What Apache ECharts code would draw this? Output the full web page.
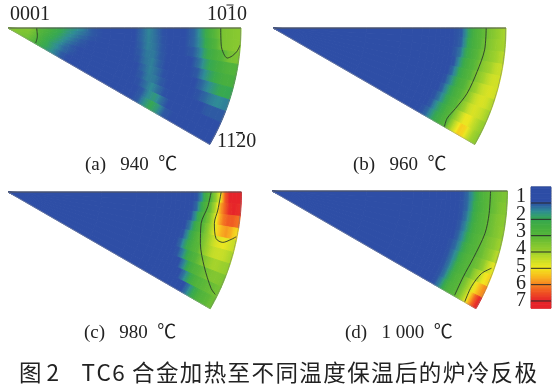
<!DOCTYPE html>
<html><head><meta charset="utf-8">
<style>html,body{margin:0;padding:0;background:#fff}#c{width:558px;height:388px;filter:blur(0.6px)}</style>
<script src="https://cdn.jsdelivr.net/npm/echarts@6/dist/echarts.min.js"></script>
</head><body><div id="c"></div>
<script>
const thetaEdges = [0,3,6,9,12,15,18,21,24,27,30];
const rEdgesA = [0,6,12,15,18,21,24,27,30,34,38,44,50,53,56,59,62,65,68,71,74,78,82,85,88,91,94,97,100];
const rEdgesOther = [0,40,55,60,64,67,70,72,74,76,78,80,82,84,86,88,90,92,94,96,98,100];

const valuesA = [
[3.6,3.6,3.1,2.8,2.4,2.1,1.8,1.6,1.4,1.1,1,1,1,1,1.2,1.45,1.25,1.03,1,1,1,1.2,1.8,2.6,3.1,3.5,3.6,3.7],
[3.6,3.6,3.0,2.7,2.3,2.0,1.7,1.5,1.3,1.1,1,1,1,1,1.2,1.43,1.27,1.05,1,1,1,1.2,1.7,2.4,2.9,3.5,3.6,3.7],
[3.6,3.6,3.0,2.6,2.2,1.9,1.6,1.4,1.2,1.05,1,1,1,1,1.15,1.42,1.3,1.07,1,1,1,1.1,1.5,2.2,2.6,2.9,3.4,3.5],
[3.6,3.5,2.9,2.5,2.1,1.8,1.5,1.3,1.1,1,1,1,1,1,1.1,1.35,1.35,1.1,1,1,1,1,1.3,1.8,2.2,2.5,2.8,2.9],
[3.6,3.5,2.9,2.4,2.0,1.7,1.4,1.2,1.05,1,1,1,1,1,1.05,1.3,1.4,1.15,1,1,1,1,1.1,1.5,1.9,2.3,2.6,2.6],
[3.6,3.5,2.8,2.3,1.9,1.6,1.3,1.1,1,1,1,1,1,1,1,1.2,1.42,1.25,1.03,1,1,1,1,1.2,1.5,1.8,2.1,2.0],
[3.6,3.4,2.8,2.3,1.8,1.5,1.2,1.1,1,1,1,1,1,1,1,1.1,1.38,1.35,1.1,1,1,1,1,1.05,1.2,1.4,1.5,1.4],
[3.6,3.4,2.7,2.2,1.8,1.5,1.2,1.05,1,1,1,1,1,1,1,1.03,1.25,1.5,1.25,1.03,1,1,1,1,1,1.1,1.1,1.1],
[3.6,3.4,2.7,2.2,1.8,1.4,1.1,1,1,1,1,1,1,1,1,1,1.1,1.5,1.7,1.3,1,1,1,1,1,1,1,1],
[3.6,3.3,2.6,2.1,1.7,1.4,1.1,1,1,1,1,1,1,1,1,1,1.1,1.6,2.0,1.7,1.1,1,1,1,1,1,1,1]
];
const valuesB = [
[1,1,1,1,1,1,1,1,1,1,1.05,1.1,1.6,2.2,2.7,3.0,3.2,3.5,3.7,3.9,4.1],
[1,1,1,1,1,1,1,1,1,1,1.05,1.15,1.7,2.3,2.7,3.0,3.3,3.6,3.8,4.0,4.1],
[1,1,1,1,1,1,1,1,1,1,1.1,1.3,1.9,2.4,2.8,3.1,3.4,3.7,3.9,4.1,4.3],
[1,1,1,1,1,1,1,1,1,1,1.05,1.5,2.1,2.6,2.9,3.2,3.6,3.9,4.1,4.4,4.5],
[1,1,1,1,1,1,1,1,1,1,1.2,1.7,2.3,2.7,3.0,3.4,3.8,4.1,4.4,4.6,4.6],
[1,1,1,1,1,1,1,1,1,1.05,1.4,1.9,2.5,2.8,3.2,3.6,4.0,4.4,4.6,4.7,4.6],
[1,1,1,1,1,1,1,1,1,1.15,1.6,2.1,2.6,2.9,3.3,3.8,4.3,4.6,4.7,4.6,4.3],
[1,1,1,1,1,1,1,1,1.05,1.3,1.7,2.2,2.7,3.0,3.5,4.0,4.5,4.7,4.6,4.4,4.1],
[1,1,1,1,1,1,1,1,1.1,1.5,1.9,2.3,2.8,3.1,3.8,4.4,4.9,4.9,4.5,4.2,3.9],
[1,1,1,1,1,1,1,1.05,1.2,1.6,2.0,2.4,2.8,3.1,4.0,4.7,5.3,5.2,4.6,4.1,3.8]
];
const valuesC = [
[1,1,1,1,1,1,1,1,1,1,1,1.05,1.5,2.5,3.0,3.8,4.9,6.4,7,7,7],
[1,1,1,1,1,1,1,1,1,1,1,1.2,2.0,2.8,3.3,4.2,5.6,6.3,6.9,7,6.9],
[1,1,1,1,1,1,1,1,1,1,1.05,1.6,2.4,3.0,3.5,4.5,5.5,6.1,6.4,6.4,6.2],
[1,1,1,1,1,1,1,1,1,1,1.3,2.0,2.7,3.1,3.7,4.4,5.2,5.6,5.8,5.6,5.2],
[1,1,1,1,1,1,1,1,1,1.05,1.6,2.3,2.9,3.2,3.7,4.2,4.6,4.8,4.9,4.7,4.5],
[1,1,1,1,1,1,1,1,1,1.2,1.8,2.4,2.9,3.1,3.7,4.1,4.4,4.5,4.5,4.4,4.2],
[1,1,1,1,1,1,1,1,1,1.05,1.4,2.0,2.6,2.9,3.3,3.6,3.9,4.1,4.1,4.0,3.9],
[1,1,1,1,1,1,1,1,1,1,1,1.4,2.0,2.6,2.9,3.1,3.3,3.5,3.6,3.6,3.5],
[1,1,1,1,1,1,1,1,1,1,1,1,1.3,1.8,2.4,2.8,3.0,3.1,3.2,3.3,3.4],
[1,1,1,1,1,1,1,1,1,1,1,1,1,1,1.3,1.8,2.3,2.8,3.0,3.1,3.3]
];
const valuesD = [
[1,1,1,1,1,1,1,1,1,1,1,1.05,1.2,1.6,2.2,2.7,3.0,3.1,3.3,3.4,3.5],
[1,1,1,1,1,1,1,1,1,1,1,1.05,1.2,1.7,2.3,2.7,3.0,3.1,3.3,3.5,3.6],
[1,1,1,1,1,1,1,1,1,1,1,1.05,1.3,1.8,2.4,2.8,3.0,3.2,3.4,3.6,3.7],
[1,1,1,1,1,1,1,1,1,1,1,1.1,1.4,1.9,2.5,2.8,3.0,3.2,3.4,3.6,3.8],
[1,1,1,1,1,1,1,1,1,1,1,1.15,1.5,2.0,2.6,2.9,3.1,3.3,3.5,3.7,4.0],
[1,1,1,1,1,1,1,1,1,1,1.05,1.2,1.6,2.2,2.7,2.9,3.1,3.3,3.6,3.9,4.3],
[1,1,1,1,1,1,1,1,1,1,1.05,1.3,1.7,2.4,2.8,3.0,3.2,3.4,3.8,4.4,4.8],
[1,1,1,1,1,1,1,1,1,1,1.05,1.3,1.8,2.5,2.8,3.0,3.2,3.9,4.3,4.9,5.2],
[1,1,1,1,1,1,1,1,1,1,1.05,1.3,1.9,2.6,2.9,3.1,3.6,4.2,4.9,5.5,5.9],
[1,1,1,1,1,1,1,1,1,1,1.05,1.4,2.0,2.7,2.9,3.1,3.6,4.3,5.2,6.2,6.9]
];

const contourA1 = [[12.3,0],[13.1,15.8],[13.5,28.4]];
const contourA2 = [[91.3,0],[91.9,4.9],[95,7.8],[97,7.1],[98.8,5.8],[100,4.1]];
const contourB1 = [[91.5,0],[91.3,5.9],[89.6,12],[87.9,18.6],[85.6,23.8],[84.2,27.4],[84.9,30]];
const contourC1 = [[87,0],[85.8,4.2],[83.8,9.2],[85.3,15],[90,20.9],[96.3,25.4],[99,26.3]];
const contourC2 = [[91.3,0],[90.2,4.9],[89.4,8.6],[91.3,12.6],[94.5,13.2],[97.7,12],[99.6,11.1]];
const contourD1 = [[92.8,0],[92.7,5.9],[92.2,11.3],[90.1,18.5],[89,24.2],[89.3,29.7]];
const contourD2 = [[94.4,29.9],[93.9,25.6],[95.6,21.5],[98.8,19.4]];
const wedgeTop = [[0,0],[100,0]];
const wedgeArc = [[100,0],[100,5],[100,10],[100,15],[100,20],[100,25],[100,30]];
const wedgeSlant = [[100,30],[0,30]];

const colourStops = ['#2e4ea6','#2f8c96','#36a852','#45ae40','#55b53a','#7cc432','#9bd02c','#c8de28','#f2e81f','#f8bc1e','#f58221','#ef5223','#e6242a'];
const legendTicks = [1,2,3,4,5,6,7];
const legendLabelValues = [0.45,1,2,3,4,5,6,7,7.4];
const cornerLabels = ['0001','1010','1120'];
const captions = ['(a)   940  \u2103','(b)   960  \u2103','(c)   980  \u2103','(d)   1 000  \u2103'];
const figureTitle = '\u56fe 2\u3000T\u200aC\u200a6\u2009\u200a\u200a\u5408\u200a\u91d1\u200a\u52a0\u200a\u70ed\u200a\u81f3\u200a\u4e0d\u200a\u540c\u200a\u6e29\u200a\u5ea6\u200a\u4fdd\u200a\u6e29\u200a\u540e\u200a\u7684\u200a\u7089\u200a\u51b7\u200a\u53cd\u200a\u6781';

const legendLevels = [];
for(let v=0;v<7.43;v+=0.1) legendLevels.push(+v.toFixed(2));

function colourOf(v){
  const t = Math.max(0, Math.min(1, (v-1)/6));
  return echarts.color.lerp(t, colourStops);
}
function cellRender(params, api){
  const r0=api.value(3), r1=api.value(4), a0=api.value(5), a1=api.value(6);
  const o=api.coord([0,0]), e=api.coord([100,0]), R=Math.hypot(e[0]-o[0],e[1]-o[1]);
  const fill=new echarts.graphic.RadialGradient(o[0],o[1],R,[
    {offset:r0/100,color:colourOf(api.value(7))},
    {offset:(r0+r1)/200,color:colourOf(api.value(2))},
    {offset:r1/100,color:colourOf(api.value(8))}
  ],true);
  const n=3, pts=[];
  for(let i=0;i<=n;i++) pts.push(api.coord([r0,a0+(a1-a0)*i/n]));
  for(let i=n;i>=0;i--) pts.push(api.coord([r1,a0+(a1-a0)*i/n]));
  return {type:'polygon',shape:{points:pts},style:{fill:fill,stroke:fill,lineWidth:1}};
}
function cells(rows, rEdges){
  const out=[];
  rows.forEach((row,j)=>row.forEach((v,i)=>{
    const lo=i>0?(row[i-1]+v)/2:v, hi=i<row.length-1?(row[i+1]+v)/2:v;
    out.push([(rEdges[i]+rEdges[i+1])/2,(thetaEdges[j]+thetaEdges[j+1])/2,v,rEdges[i],rEdges[i+1],thetaEdges[j],thetaEdges[j+1],lo,hi]);
  }));
  return out;
}
function lineS(p,data,color,width,smooth){
  return {type:'line',coordinateSystem:'polar',polarIndex:p,data:data,symbol:'none',smooth:smooth?0.3:false,silent:true,
    lineStyle:{color:color,width:width},z:5,clip:false};
}
const panels=[
 {center:[8,28],radius:233,rows:valuesA,edges:rEdgesA,contours:[contourA1,contourA2]},
 {center:[273,28],radius:233,rows:valuesB,edges:rEdgesOther,contours:[contourB1]},
 {center:[8,192],radius:233.5,rows:valuesC,edges:rEdgesOther,contours:[contourC1,contourC2]},
 {center:[272,191],radius:235.5,rows:valuesD,edges:rEdgesOther,contours:[contourD1,contourD2]}
];
const series=[];
panels.forEach((p,i)=>{
  series.push({type:'custom',coordinateSystem:'polar',polarIndex:i,renderItem:cellRender,data:cells(p.rows,p.edges),silent:true,z:2,
    encode:{radius:0,angle:1}});
  p.contours.forEach(c=>series.push(lineS(i,c,'#2b3a2b',0.9,true)));
  series.push(lineS(i,wedgeTop,'#555',1,false));
  series.push(lineS(i,wedgeArc,'#777',0.7,false));
  series.push(lineS(i,wedgeSlant,'#999',0.5,false));
});
series.push({type:'custom',coordinateSystem:'cartesian2d',xAxisIndex:0,yAxisIndex:0,silent:true,z:2,
  data:legendLevels.map((v,i)=>[0,v,legendLevels[i+1]===undefined?7.43:legendLevels[i+1]]),encode:{x:0,y:[1,2]},
  renderItem(params,api){
    const a=api.coord([0,api.value(1)]),b=api.coord([1,api.value(2)]),c=colourOf(api.value(1)+0.05);
    return {type:'rect',shape:{x:a[0],y:a[1],width:b[0]-a[0],height:b[1]-a[1]+0.5},style:{fill:c,stroke:c,lineWidth:0.5}};
  }
});
series.push({type:'custom',coordinateSystem:'cartesian2d',xAxisIndex:0,yAxisIndex:0,silent:true,z:3,
  data:legendTicks.map(v=>[0.5,v]),encode:{x:0,y:1},
  renderItem(params,api){
    const a=api.coord([0,api.value(1)]),b=api.coord([1,api.value(1)]);
    return {type:'line',shape:{x1:a[0],y1:a[1],x2:b[0],y2:b[1]},style:{stroke:'#2a2a2a',lineWidth:1}};
  }
});
const serif='"Liberation Serif","Noto Sans CJK SC",serif', col='#222';
const txt=(s,x,y,size,align,font)=>({type:'text',silent:true,z:20,style:{text:s,x:x,y:y,fill:col,font:size+'px '+(font||serif),textAlign:align||'left',textVerticalAlign:'middle'}});
const bar=(x1,x2,y)=>({type:'line',silent:true,z:20,shape:{x1:x1,y1:y,x2:x2,y2:y},style:{stroke:col,lineWidth:1}});
const option={
 animation:false,backgroundColor:'#fff',
 polar:panels.map(p=>({center:p.center,radius:p.radius})),
 angleAxis:panels.map((p,i)=>({polarIndex:i,type:'value',min:0,max:360,startAngle:0,clockwise:true,show:false})),
 radiusAxis:panels.map((p,i)=>({polarIndex:i,type:'value',min:0,max:100,show:false})),
 grid:[{left:531,top:187,width:20,height:121,show:true,borderColor:'#888',borderWidth:1,backgroundColor:'transparent'}],
 xAxis:[{type:'value',min:0,max:1,gridIndex:0,show:false}],
 yAxis:[
  {type:'value',gridIndex:0,min:0.02,max:7.43,inverse:true,show:false},
  {type:'value',gridIndex:0,min:0.423,max:7.405,inverse:true,position:'left',
   axisLine:{show:false},axisTick:{show:false,customValues:legendTicks},splitLine:{show:false},
   axisLabel:{show:true,customValues:legendLabelValues,margin:5,lineHeight:12,fontFamily:'"Liberation Serif",serif',fontSize:20,color:col,
     formatter:v=>legendTicks.includes(v)?String(v):''}}
 ],
 graphic:{elements:[
  txt(cornerLabels[0],10,15,20),
  txt(cornerLabels[1],207,15,20),
  bar(226.5,233.5,5),
  txt(cornerLabels[2],217,142,20),
  bar(236,243,132.5),
  txt(captions[0],85,165,19),
  txt(captions[1],353,165,19),
  txt(captions[2],84,333,19),
  txt(captions[3],345,333,19),
  txt(figureTitle,19,372,22.5,'left','"Noto Sans CJK SC",sans-serif')
 ]},
 series:series
};
echarts.init(document.getElementById('c')).setOption(option);
</script></body></html>
